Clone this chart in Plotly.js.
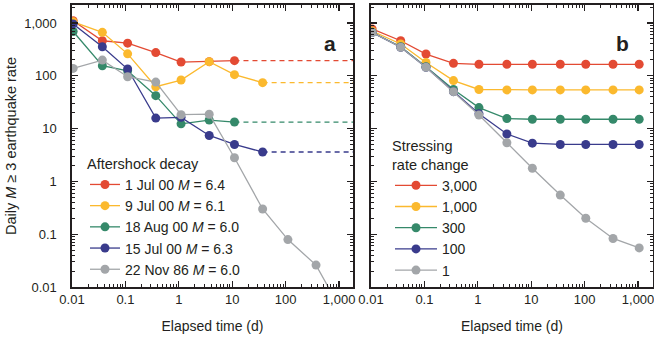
<!DOCTYPE html>
<html>
<head>
<meta charset="utf-8">
<script src="https://cdn.plot.ly/plotly-3.0.1.min.js"></script>
<style>html,body{margin:0;padding:0;background:#fff;}#chart{width:654px;height:340px;}</style>
</head>
<body>
<div id="chart"></div>
<script>
// ---- Data ----
const tickVals = [0.01, 0.1, 1, 10, 100, 1000];
const tickText = ["0.01", "0.1", "1", "10", "100", "1,000"];

// Panel a: observed aftershock decay
const timeA = [0.0105, 0.037, 0.11, 0.37, 1.1, 3.7, 11, 37, 110, 370, 1100];
const namesA = ["1 Jul 00 <i>M</i> = 6.4", "9 Jul 00 <i>M</i> = 6.1", "18 Aug 00 <i>M</i> = 6.0", "15 Jul 00 <i>M</i> = 6.3", "22 Nov 86 <i>M</i> = 6.0"];
const jul1 = [1100, 460, 415, 275, 182, 185, 193];
const jul9 = [1050, 665, 260, 62, 83, 185, 105, 74];
const aug18 = [690, 155, 124, 42, 12.3, 14.5, 13.3];
const jul15 = [960, 355, 134, 15.8, 16.3, 7.4, 5.0, 3.6];
const nov86 = [138, 198, 96, 76, 18.3, 18.7, 2.8, 0.30, 0.079, 0.026, 0.0036];
const seriesA = [jul1, jul9, aug18, jul15, nov86];
const dashedA = [true, true, true, true, false];
const xEnd = 2000;

// Panel b: modelled stressing-rate change
const timeB = [0.0105, 0.036, 0.107, 0.35, 1.05, 3.5, 10.5, 35, 105, 340, 1050];
const namesB = ["3,000", "1,000", "300", "100", "1"];
const r3000 = [770, 460, 258, 172, 165, 165, 165, 165, 165, 165, 165];
const r1000 = [705, 400, 178, 81, 55, 54, 54, 54, 54, 54, 54];
const r300 = [665, 355, 148, 55, 25, 15.5, 15, 15, 15, 15, 15];
const r100 = [665, 347, 145, 50, 19, 7.9, 5.3, 5.0, 5.0, 5.0, 5.0];
const r1 = [665, 347, 145, 50, 18, 5.4, 1.77, 0.55, 0.20, 0.083, 0.055];
const seriesB = [r3000, r1000, r300, r100, r1];

const colors = ["#e34a33", "#fbb92e", "#35896a", "#393b8c", "#a3a6a9"];

// ---- Traces ----
const traces = [];
seriesA.forEach((ys, i) => {
  const xs = timeA.slice(0, ys.length);
  if (dashedA[i]) {
    traces.push({
      x: [xs[xs.length - 1], xEnd], y: [ys[ys.length - 1], ys[ys.length - 1]],
      xaxis: 'x', yaxis: 'y', mode: 'lines', showlegend: false, hoverinfo: 'skip',
      line: {color: colors[i], width: 1.3, dash: '5px,4px'}
    });
  }
});
seriesA.forEach((ys, i) => {
  traces.push({
    x: timeA.slice(0, ys.length), y: ys, name: namesA[i],
    xaxis: 'x', yaxis: 'y', mode: 'lines+markers', legend: 'legend',
    line: {color: colors[i], width: 1.3},
    marker: {color: colors[i], size: 9}
  });
});
seriesB.forEach((ys, i) => {
  traces.push({
    x: timeB, y: ys, name: namesB[i],
    xaxis: 'x2', yaxis: 'y2', mode: 'lines+markers', legend: 'legend2',
    line: {color: colors[i], width: 1.3},
    marker: {color: colors[i], size: 9}
  });
});

// ---- Layout ----
const minorVals = [];
for (let e = -2; e <= 3; e++) for (let d = 2; d <= 9; d++) minorVals.push(d * Math.pow(10, e));

const font = {family: 'Liberation Sans, Arial, Helvetica, sans-serif', size: 14, color: '#231f20'};
function axis(extra) {
  return Object.assign({
    type: 'log', showline: true, linecolor: '#231f20', linewidth: 1.6, mirror: 'ticks',
    ticks: 'inside', ticklen: 6, tickwidth: 1.3, tickcolor: '#231f20',
    tickmode: 'array', tickvals: tickVals, ticktext: tickText,
    minor: {tickmode: 'array', tickvals: minorVals, ticks: 'inside', ticklen: 3, tickwidth: 1, tickcolor: '#231f20', showgrid: false},
    showgrid: false, zeroline: false, ticklabeloverflow: 'allow',
    tickfont: {family: font.family, size: 13, color: '#231f20'}
  }, extra);
}

const layout = {
  width: 654, height: 340,
  margin: {l: 0, r: 0, t: 0, b: 0},
  paper_bgcolor: '#fff', plot_bgcolor: '#fff',
  font: font,
  showlegend: true,
  xaxis: axis({domain: [72/654, 353/654], range: [-2, 3.26], anchor: 'y',
    title: {text: 'Elapsed time (d)', font: {size: 14}, standoff: 15}}),
  yaxis: axis({domain: [53/340, 335/340], range: [-2, 3.34], anchor: 'x',
    ticklabelstandoff: 11,
    title: {text: 'Daily <i>M</i> ≥ 3 earthquake rate', font: {size: 14.5}, standoff: 4}}),
  xaxis2: axis({domain: [371/654, 653/654], range: [-2, 3.28], anchor: 'y2',
    title: {text: 'Elapsed time (d)', font: {size: 14}, standoff: 15}}),
  yaxis2: axis({domain: [53/340, 335/340], range: [-2, 3.34], anchor: 'x2', showticklabels: false}),
  legend: {
    x: 85/654, y: 1 - 150/340, xanchor: 'left', yanchor: 'top',
    bgcolor: 'rgba(0,0,0,0)', borderwidth: 0, tracegroupgap: 0,
    title: {text: 'Aftershock decay', font: {size: 14.5}},
    font: {size: 14}, itemwidth: 30
  },
  legend2: {
    x: 390/654, y: 1 - 132/340, xanchor: 'left', yanchor: 'top',
    bgcolor: 'rgba(0,0,0,0)', borderwidth: 0, tracegroupgap: 0,
    title: {text: 'Stressing<br>rate change', font: {size: 14.5}},
    font: {size: 14}, itemwidth: 42
  },
  annotations: [
    {text: '<b>a</b>', xref: 'paper', yref: 'paper', x: 330/654, y: 1 - 30/340, showarrow: false,
     font: {size: 21, family: font.family, color: '#231f20'}},
    {text: '<b>b</b>', xref: 'paper', yref: 'paper', x: 631/654, y: 1 - 30/340, showarrow: false,
     font: {size: 21, family: font.family, color: '#231f20'}}
  ]
};

Plotly.newPlot('chart', traces, layout, {staticPlot: true, displayModeBar: false});
</script>
</body>
</html>
